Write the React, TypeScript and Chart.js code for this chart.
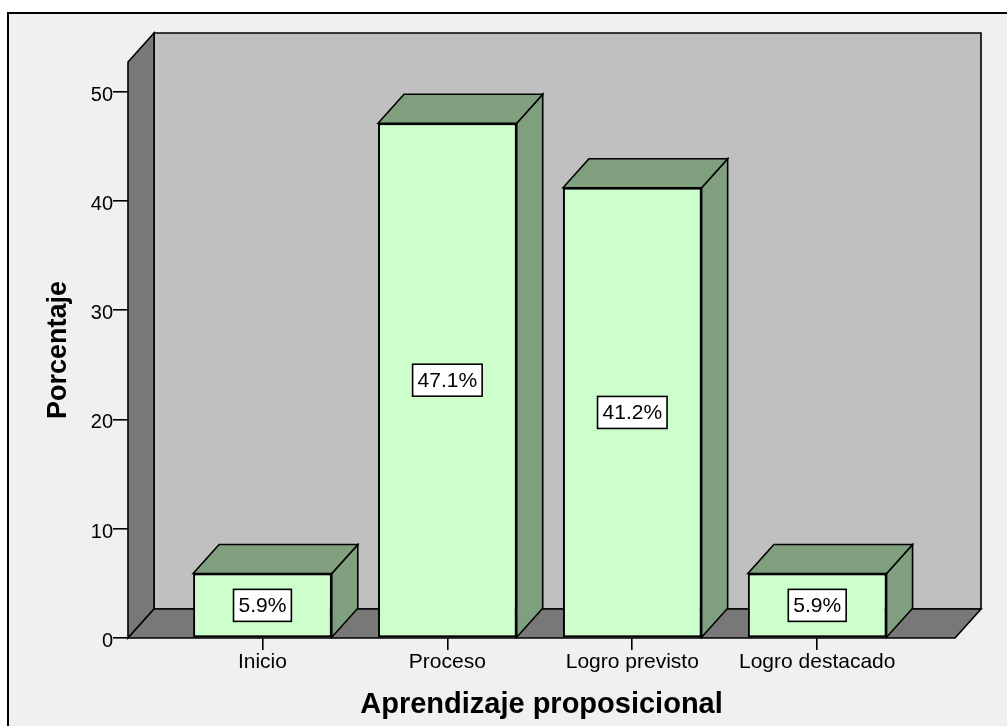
import React, { useEffect, useRef } from "react";
import { Chart, registerables } from "chart.js";

Chart.register(...registerables);

// ---- data ----
const categories = ["Inicio", "Proceso", "Logro previsto", "Logro destacado"];
const percentages = [5.9, 47.1, 41.2, 5.9];
const yTickValues = [0, 10, 20, 30, 40, 50];
const yMax = 52.7;
const xMin = -0.727;
const xMax = 3.745;
const xTitle = "Aprendizaje proposicional";
const yTitle = "Porcentaje";

// ---- style ----
const FONT = "'Liberation Sans', Arial, Helvetica, sans-serif";
const DX = 26;
const DY = 29;
const WALL_BACK = "#c0c0c0";
const WALL_DARK = "#787878";
const BAR_FRONT = "#ccffcc";
const BAR_SHADE = "#7f9f7f";

function poly(ctx: CanvasRenderingContext2D, pts: number[][], fill: string, lw = 1.6) {
  ctx.beginPath();
  ctx.moveTo(pts[0][0], pts[0][1]);
  for (let i = 1; i < pts.length; i++) ctx.lineTo(pts[i][0], pts[i][1]);
  ctx.closePath();
  ctx.fillStyle = fill;
  ctx.fill();
  ctx.lineWidth = lw;
  ctx.strokeStyle = "#000";
  ctx.lineJoin = "miter";
  ctx.stroke();
}

const threeDPlugin = {
  id: "threeD",
  beforeDraw(chart: any) {
    const { ctx, width, height } = chart;
    ctx.save();
    ctx.fillStyle = "#ffffff";
    ctx.fillRect(0, 0, width, height);
    ctx.fillStyle = "#f0f0f0";
    ctx.fillRect(8, 13, width, height);
    ctx.strokeStyle = "#000";
    ctx.lineWidth = 2;
    ctx.beginPath();
    ctx.moveTo(8, height + 5);
    ctx.lineTo(8, 13);
    ctx.lineTo(width + 5, 13);
    ctx.stroke();
    ctx.restore();
  },
  beforeDatasetsDraw(chart: any) {
    const { ctx, chartArea: a, scales } = chart;
    const L = a.left;
    const R = a.right;
    const T = a.top;
    const B = scales.y.getPixelForValue(0);
    ctx.save();
    // back wall
    poly(ctx, [[L + DX, T - DY], [R + DX, T - DY], [R + DX, B - DY], [L + DX, B - DY]], WALL_BACK);
    // left wall
    poly(ctx, [[L, T], [L + DX, T - DY], [L + DX, B - DY], [L, B]], WALL_DARK);
    // floor
    poly(ctx, [[L, B], [L + DX, B - DY], [R + DX, B - DY], [R, B]], WALL_DARK);
    // bar tops and sides
    const meta = chart.getDatasetMeta(0);
    meta.data.forEach((bar: any) => {
      const x0 = bar.x - bar.width / 2;
      const x1 = bar.x + bar.width / 2;
      const y = bar.y;
      const base = bar.base;
      poly(ctx, [[x1, y], [x1 + DX, y - DY], [x1 + DX, base - DY], [x1, base]], BAR_SHADE);
      poly(ctx, [[x0, y], [x0 + DX, y - DY], [x1 + DX, y - DY], [x1, y]], BAR_SHADE);
    });
    ctx.restore();
  },
  afterDatasetsDraw(chart: any) {
    const { ctx } = chart;
    const meta = chart.getDatasetMeta(0);
    ctx.save();
    ctx.font = `21px ${FONT}`;
    ctx.textAlign = "center";
    ctx.textBaseline = "middle";
    meta.data.forEach((bar: any, i: number) => {
      const text = `${percentages[i].toFixed(1)}%`;
      const tw = ctx.measureText(text).width;
      const w = tw + 10;
      const h = 32;
      const cx = bar.x;
      const cy = (bar.y + bar.base) / 2;
      ctx.fillStyle = "#ffffff";
      ctx.fillRect(cx - w / 2, cy - h / 2, w, h);
      ctx.strokeStyle = "#000";
      ctx.lineWidth = 1.6;
      ctx.strokeRect(cx - w / 2, cy - h / 2, w, h);
      ctx.fillStyle = "#000";
      ctx.fillText(text, cx, cy + 1);
    });
    ctx.restore();
  },
};

export default function App() {
  const ref = useRef<HTMLCanvasElement>(null);

  useEffect(() => {
    const canvas = ref.current;
    if (!canvas) return;
    const chart = new Chart(canvas, {
      type: "bar",
      data: {
        datasets: [
          {
            data: categories.map((_, i) => ({ x: i, y: percentages[i] })),
            backgroundColor: BAR_FRONT,
            borderColor: "#000",
            borderWidth: 2,
            borderSkipped: false,
            categoryPercentage: 1,
            barPercentage: 0.75,
          } as any,
        ],
      },
      options: {
        animation: false,
        responsive: false,
        devicePixelRatio: 1,
        layout: { padding: { left: 0, right: 52, top: 62, bottom: 0 } },
        plugins: {
          legend: { display: false },
          tooltip: { enabled: false },
        },
        scales: {
          x: {
            type: "linear",
            offset: false,
            min: xMin,
            max: xMax,
            afterBuildTicks: (s: any) => {
              s.ticks = categories.map((_, i) => ({ value: i }));
            },
            afterFit: (s: any) => {
              s.height = 88;
            },
            ticks: {
              callback: (v: any) => categories[v] ?? "",
              font: { family: FONT, size: 21 },
              color: "#000",
              padding: 0,
              maxRotation: 0,
              autoSkip: false,
            },
            grid: {
              offset: false,
              drawOnChartArea: false,
              drawTicks: true,
              tickLength: 12,
              color: "#000",
              lineWidth: 1.6,
            },
            border: { display: false },
            title: {
              display: true,
              text: xTitle,
              font: { family: FONT, size: 29, weight: "bold" },
              color: "#000",
              padding: { top: 0, bottom: 4 },
            },
          },
          y: {
            type: "linear",
            min: 0,
            max: yMax,
            afterBuildTicks: (s: any) => {
              s.ticks = yTickValues.map((v) => ({ value: v }));
            },
            afterFit: (s: any) => {
              s.width = 128;
            },
            ticks: {
              font: { family: FONT, size: 20 },
              color: "#000",
              padding: 0,
              labelOffset: 3.5,
            },
            grid: {
              drawOnChartArea: false,
              drawTicks: true,
              tickLength: 15,
              color: "#000",
              lineWidth: 1.6,
            },
            border: { display: false },
            title: {
              display: true,
              text: yTitle,
              font: { family: FONT, size: 27, weight: "bold" },
              color: "#000",
              padding: { top: 42, bottom: 0 },
            },
          },
        },
      } as any,
      plugins: [threeDPlugin],
    });
    return () => chart.destroy();
  }, []);

  return (
    <div style={{ position: "fixed", left: 0, top: 0, width: 1007, height: 726 }}>
      <canvas
        ref={ref}
        width={1007}
        height={726}
        style={{ display: "block", width: 1007, height: 726 }}
      />
    </div>
  );
}
